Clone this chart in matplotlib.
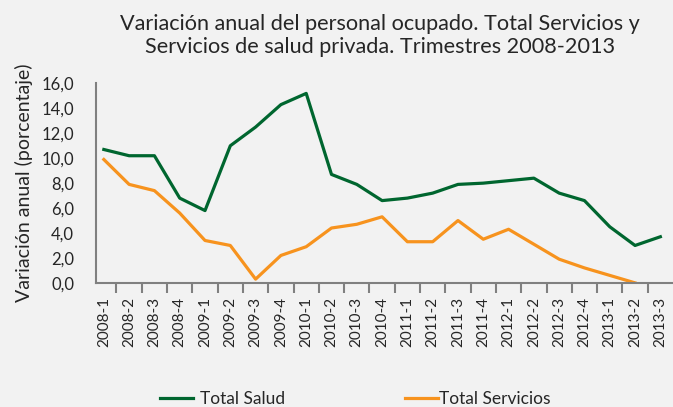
import numpy as np
import matplotlib.pyplot as plt
from matplotlib.lines import Line2D

plt.rcParams['font.family'] = ['Lato', 'DejaVu Sans']

quarters = ['2008-1', '2008-2', '2008-3', '2008-4', '2009-1', '2009-2', '2009-3', '2009-4',
            '2010-1', '2010-2', '2010-3', '2010-4', '2011-1', '2011-2', '2011-3', '2011-4',
            '2012-1', '2012-2', '2012-3', '2012-4', '2013-1', '2013-2', '2013-3']
salud = [10.7, 10.2, 10.2, 6.8, 5.8, 11.0, 12.5, 14.3, 15.2, 8.7, 7.9, 6.6, 6.8, 7.2,
         7.9, 8.0, 8.2, 8.4, 7.2, 6.6, 4.5, 3.0, 3.7]
servicios = [9.9, 7.9, 7.4, 5.6, 3.4, 3.0, 0.3, 2.2, 2.9, 4.4, 4.7, 5.3, 3.3, 3.3,
             5.0, 3.5, 4.3, 3.1, 1.9, 1.2, 0.6, 0.0, np.nan]
yticks = [0, 2, 4, 6, 8, 10, 12, 14, 16]

gray = '#808080'
txt = '#262626'
green = '#00662F'
orange = '#F7931E'

fig = plt.figure(figsize=(6.73, 4.07), dpi=100, facecolor='#F2F2F2')
ax = fig.add_axes([0.143, 0.305, 0.857, 0.49])
ax.set_facecolor('#F2F2F2')

x = np.arange(len(quarters))
ax.plot(x, salud, color=green, lw=2.3)
ax.plot(x, servicios, color=orange, lw=2.3)

ax.set_xlim(-0.3, 22.5)
ax.set_ylim(0, 16)
ax.set_yticks(yticks)
ax.set_yticklabels([('%.1f' % v).replace('.', ',') for v in yticks], fontsize=12, color=txt)
ax.set_xticks(x)
ax.set_xticklabels(quarters, rotation=90, fontsize=11, color=txt)
ax.set_xticks(x[:-1] + 0.5, minor=True)
ax.tick_params(axis='x', which='major', length=0, pad=10)
ax.tick_params(axis='x', which='minor', length=7, width=1.5, color=gray)
ax.tick_params(axis='y', length=0, pad=16)

for s in ['top', 'right']:
    ax.spines[s].set_visible(False)
for s in ['left', 'bottom']:
    ax.spines[s].set_color(gray)
    ax.spines[s].set_linewidth(1.5)

ax.set_ylabel('Variación anual (porcentaje)', fontsize=14, color=txt, labelpad=6)
fig.suptitle('Variación anual del personal ocupado. Total Servicios y\nServicios de salud privada. Trimestres 2008-2013',
             x=0.565, y=0.965, fontsize=15.6, color=txt, linespacing=1.2)

h1 = [Line2D([], [], color=green, lw=2.3)]
h2 = [Line2D([], [], color=orange, lw=2.3)]
fig.legend(h1, ['Total Salud'], loc='center left', bbox_to_anchor=(160 / 673, 0.02),
           frameon=False, fontsize=12.5, handlelength=1.9, handletextpad=0.4,
           borderpad=0, borderaxespad=0, labelcolor=txt)
fig.legend(h2, ['Total Servicios'], loc='center left', bbox_to_anchor=(405 / 673, 0.02),
           frameon=False, fontsize=12.5, handlelength=1.9, handletextpad=0.05,
           borderpad=0, borderaxespad=0, labelcolor=txt)

plt.savefig('out.png', dpi=100, facecolor=fig.get_facecolor())
